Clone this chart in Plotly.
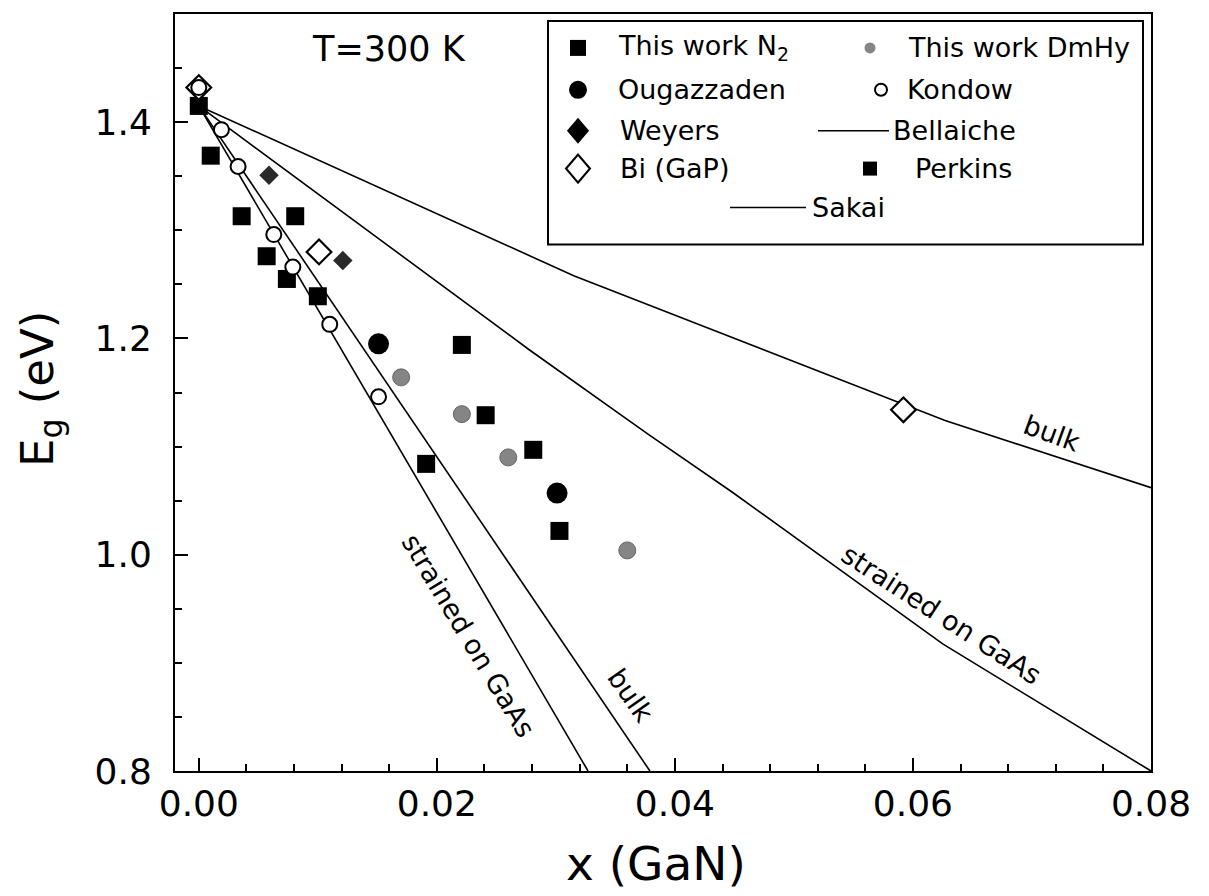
import plotly.graph_objects as go

# ---------------- data ----------------
this_work_n2_x = [0.0, 0.0221, 0.0241, 0.0281, 0.0303]
this_work_n2_y = [1.415, 1.194, 1.129, 1.097, 1.022]

dmhy_x = [0.0170, 0.0221, 0.0260, 0.0360]
dmhy_y = [1.164, 1.130, 1.090, 1.004]

ougazzaden_x = [0.0151, 0.0301]
ougazzaden_y = [1.195, 1.057]

kondow_x = [0.0, 0.0019, 0.0033, 0.0063, 0.0079, 0.0110, 0.0151]
kondow_y = [1.432, 1.393, 1.359, 1.296, 1.266, 1.213, 1.146]

weyers_x = [0.0, 0.0059, 0.0121]
weyers_y = [1.432, 1.351, 1.272]

bi_x = [0.0, 0.0101, 0.0592]
bi_y = [1.432, 1.280, 1.134]

perkins_x = [0.0010, 0.0036, 0.0081, 0.0057, 0.0074, 0.0100, 0.0191]
perkins_y = [1.369, 1.313, 1.313, 1.276, 1.255, 1.239, 1.084]

bellaiche_bulk_x = [0.0, 0.0379]
bellaiche_bulk_y = [1.415, 0.800]
bellaiche_strained_x = [0.0, 0.0327]
bellaiche_strained_y = [1.415, 0.800]

sakai_bulk_x = [0.0, 0.0315, 0.0627, 0.080]
sakai_bulk_y = [1.415, 1.258, 1.124, 1.062]
sakai_strained_x = [0.0, 0.0277, 0.0378, 0.0448, 0.0625, 0.080]
sakai_strained_y = [1.415, 1.190, 1.111, 1.058, 0.9175, 0.800]

x_range = [-0.002, 0.08]
y_range = [0.8, 1.5]

FONT = "DejaVu Sans"

fig = go.Figure()

line_style = dict(color="black", width=1.6)
for nm, xs, ys in [("Bellaiche", bellaiche_bulk_x, bellaiche_bulk_y),
                   ("Bellaiche", bellaiche_strained_x, bellaiche_strained_y),
                   ("Sakai", sakai_bulk_x, sakai_bulk_y),
                   ("Sakai", sakai_strained_x, sakai_strained_y)]:
    fig.add_trace(go.Scatter(x=xs, y=ys, mode="lines", name=nm, line=line_style,
                             showlegend=False))

fig.add_trace(go.Scatter(x=this_work_n2_x, y=this_work_n2_y, mode="markers", name="This work N2",
                         marker=dict(symbol="square", size=18, color="black"), showlegend=False))
fig.add_trace(go.Scatter(x=perkins_x, y=perkins_y, mode="markers", name="Perkins",
                         marker=dict(symbol="square", size=18, color="black"), showlegend=False))
fig.add_trace(go.Scatter(x=dmhy_x, y=dmhy_y, mode="markers", name="This work DmHy",
                         marker=dict(symbol="circle", size=17, color="#858585",
                                     line=dict(color="#666666", width=1)), showlegend=False))
fig.add_trace(go.Scatter(x=ougazzaden_x, y=ougazzaden_y, mode="markers", name="Ougazzaden",
                         marker=dict(symbol="circle", size=21, color="black"), showlegend=False))
fig.add_trace(go.Scatter(x=weyers_x, y=weyers_y, mode="markers", name="Weyers",
                         marker=dict(symbol="diamond", size=15, color="#2a2a2a"), showlegend=False))
fig.add_trace(go.Scatter(x=bi_x, y=bi_y, mode="markers", name="Bi (GaP)",
                         marker=dict(symbol="diamond", size=19, color="white",
                                     line=dict(color="black", width=2.2)), showlegend=False))
fig.add_trace(go.Scatter(x=kondow_x, y=kondow_y, mode="markers", name="Kondow",
                         marker=dict(symbol="circle", size=15, color="white",
                                     line=dict(color="black", width=2)), showlegend=False))

# ---------------- layout ----------------
OFF = 8  # page body margin of the exported html
W, H = 1209, 896
# plot area in screenshot pixels
SL, SR, ST, SB = 175, 1151, 12, 771
L, R, T, B = SL - OFF, SR - OFF, ST - OFF, SB - OFF
pw, ph = R - L, B - T


def px(sx):
    return (sx - SL) / pw


def py(sy):
    return (SB - sy) / ph


annotations = []
shapes = []

# curve labels
for txt, x, y, ang in [("strained on GaAs", 0.02266, 0.9255, 59),
                       ("bulk", 0.0363, 0.870, 55),
                       ("strained on GaAs", 0.0624, 0.945, 33),
                       ("bulk", 0.0717, 1.112, 20)]:
    annotations.append(dict(x=x, y=y, xref="x", yref="y", text=txt, textangle=ang,
                            xanchor="center", yanchor="middle",
                            showarrow=False, font=dict(family=FONT, size=27, color="black")))

annotations.append(dict(x=px(389), y=py(47), xref="paper", yref="paper", text="T=300 K",
                        xanchor="center", yanchor="middle",
                        showarrow=False, font=dict(family=FONT, size=35, color="black")))

# axis titles
annotations.append(dict(x=px(656), y=py(864), xref="paper", yref="paper", text="x (GaN)",
                        xanchor="center", yanchor="middle",
                        showarrow=False, font=dict(family=FONT, size=47, color="black")))
annotations.append(dict(x=px(40), y=py(388), xref="paper", yref="paper",
                        text="E<sub>g</sub> (eV)", textangle=-90,
                        xanchor="center", yanchor="middle",
                        showarrow=False, font=dict(family=FONT, size=45, color="black")))

# legend box
shapes.append(dict(type="rect", xref="paper", yref="paper", x0=px(548), x1=px(1143),
                   y0=py(243), y1=py(19), line=dict(color="black", width=2), fillcolor="rgba(0,0,0,0)"))

rows = [46, 88, 129, 167, 206]
leg_font = dict(family=FONT, size=27, color="black")


def leg_text(sx, sy, text):
    annotations.append(dict(x=px(sx), y=py(sy), xref="paper", yref="paper", text=text,
                            xanchor="left", yanchor="middle", showarrow=False, font=leg_font))


def sym(kind, sx, sy, r, fill, lw=0):
    common = dict(xref="paper", yref="paper", xsizemode="pixel", ysizemode="pixel",
                  xanchor=px(sx), yanchor=py(sy), fillcolor=fill,
                  line=dict(color="black", width=lw))
    if kind == "square":
        shapes.append(dict(type="rect", x0=-r, x1=r, y0=-r, y1=r, **common))
    elif kind == "circle":
        shapes.append(dict(type="circle", x0=-r, x1=r, y0=-r, y1=r, **common))
    elif kind == "diamond":
        rx = r * 0.85
        shapes.append(dict(type="path", path=f"M 0,{-r} L {rx},0 L 0,{r} L {-rx},0 Z", **common))


sym("square", 578, rows[0], 8, "black")
leg_text(616, rows[0], "This work N<sub>2</sub>")
sym("circle", 870, rows[0], 5.5, "#858585")
leg_text(906, rows[0], "This work DmHy")

sym("circle", 578, rows[1], 9, "black")
leg_text(616, rows[1], "Ougazzaden")
sym("circle", 881, rows[1], 6, "white", 2)
leg_text(905, rows[1], "Kondow")

sym("diamond", 578, rows[2], 13, "black")
leg_text(618, rows[2], "Weyers")
shapes.append(dict(type="line", xref="paper", yref="paper", x0=px(818), x1=px(889),
                   y0=py(rows[2]), y1=py(rows[2]), line=dict(color="black", width=1.6)))
leg_text(891, rows[2], "Bellaiche")

sym("diamond", 578, rows[3], 14, "white", 2.2)
leg_text(618, rows[3], "Bi (GaP)")
sym("square", 870, rows[3], 7, "black")
leg_text(913, rows[3], "Perkins")

shapes.append(dict(type="line", xref="paper", yref="paper", x0=px(730), x1=px(806),
                   y0=py(rows[4]), y1=py(rows[4]), line=dict(color="black", width=1.6)))
leg_text(810, rows[4], "Sakai")

axis_common = dict(showgrid=False, zeroline=False, showline=True, linecolor="black", linewidth=2,
                   mirror=True, ticks="inside", tickcolor="black", tickwidth=2, ticklen=13,
                   tickfont=dict(family=FONT, size=36, color="black"))

fig.update_layout(
    width=W, height=H,
    margin=dict(l=L, r=W - R, t=T, b=H - B, pad=0),
    plot_bgcolor="white", paper_bgcolor="white",
    showlegend=False,
    xaxis=dict(range=x_range, tick0=0, dtick=0.02, tickformat=".2f",
               ticklabelstandoff=0,
               minor=dict(ticks="inside", ticklen=7, tickwidth=1.5, tickcolor="black",
                          tick0=0, dtick=0.004),
               **axis_common),
    yaxis=dict(range=y_range, tick0=0.8, dtick=0.2, tickformat=".1f",
               ticklabelstandoff=14,
               minor=dict(ticks="inside", ticklen=7, tickwidth=1.5, tickcolor="black",
                          tick0=0.8, dtick=0.05),
               **axis_common),
    annotations=annotations,
    shapes=shapes,
)

fig.write_html("out.html")
